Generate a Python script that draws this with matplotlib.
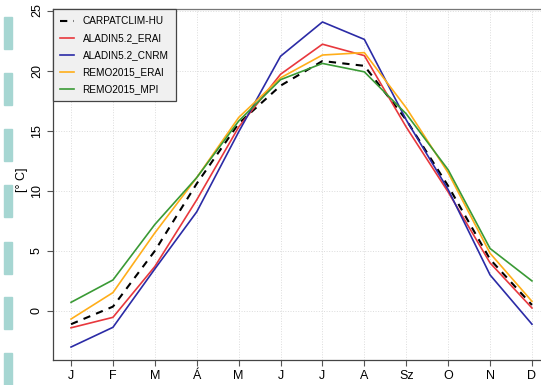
import matplotlib
matplotlib.use("Agg")
import matplotlib.pyplot as plt
from matplotlib.patches import Rectangle

plt.rcParams['font.family'] = ['Liberation Sans', 'DejaVu Sans']

months = ["J", "F", "M", "Á", "M", "J", "J", "A", "Sz", "O", "N", "D"]

# monthly mean temperature [°C]
carpatclim = [-1.1, 0.36, 5.0, 10.6, 15.6, 18.75, 20.8, 20.4, 15.9, 10.4, 4.3, 0.5]
aladin_erai = [-1.4, -0.53, 3.7, 9.25, 15.3, 19.7, 22.2, 21.25, 15.3, 9.9, 4.0, 0.25]
aladin_cnrm = [-3.0, -1.36, 3.5, 8.25, 14.9, 21.2, 24.05, 22.6, 15.9, 10.1, 3.0, -1.1]
remo_erai = [-0.67, 1.53, 6.5, 11.1, 16.1, 19.4, 21.3, 21.5, 16.9, 11.5, 4.8, 0.8]
remo_mpi = [0.72, 2.58, 7.2, 11.1, 15.8, 19.25, 20.6, 19.9, 16.4, 11.75, 5.2, 2.5]

series = [
    ("CARPATCLIM-HU", carpatclim, "black", "--"),
    ("ALADIN5.2_ERAI", aladin_erai, "#e8383d", "-"),
    ("ALADIN5.2_CNRM", aladin_cnrm, "#2b2ba6", "-"),
    ("REMO2015_ERAI", remo_erai, "#ffae1a", "-"),
    ("REMO2015_MPI", remo_mpi, "#3a9a35", "-"),
]

W, H = 541, 385
fig = plt.figure(figsize=(W / 100, H / 100), dpi=100)

# axes box in pixels: left 52.6, right 550.4 (runs past the edge), top 9, bottom 360
ax = fig.add_axes([52.6 / W, (H - 360) / H, (550.4 - 52.6) / W, (360 - 9) / H])

x = list(range(1, 13))
for label, vals, color, ls in series:
    ax.plot(x, vals, color=color, ls=ls, lw=1.2 if ls == "-" else 1.5,
            label=label, dashes=(3.5, 3) if ls == "--" else (None, None))

ax.set_xlim(0.56, 12.44)
ax.set_ylim(-4.08, 25.13)
ax.set_xticks(x)
ax.set_xticklabels(months, fontsize=9)
ax.set_yticks([0, 5, 10, 15, 20, 25])
ax.set_yticklabels(["0", "5", "10", "15", "20", "25"], fontsize=9,
                   rotation=90, va="center")
ax.tick_params(length=4, width=0.8, color="#555555", pad=3)
ax.grid(True, color="#dcdcdc", ls=":", lw=0.7)
ax.set_axisbelow(True)
for side in ["left", "bottom", "top"]:
    ax.spines[side].set_color("#444444")
    ax.spines[side].set_linewidth(0.9)
ax.spines["top"].set_color("#777777")
ax.set_ylabel("[° C]", fontsize=9, va="center")
ax.yaxis.set_label_coords(-0.0615, 0.513)

leg = ax.legend(loc="upper left", fontsize=7.2, borderaxespad=0,
                fancybox=False, framealpha=1, facecolor="#f0f0f0",
                edgecolor="#444444", handlelength=1.4, handletextpad=0.9,
                labelspacing=0.7, borderpad=0.7)
leg.get_frame().set_linewidth(0.9)

# teal strips down the left margin
strip_tops = [17, 73, 129, 185, 242, 297, 353]
for top in strip_tops:
    fig.patches.append(Rectangle((4 / W, (H - top - 32) / H), 8 / W, 32 / H,
                                 transform=fig.transFigure,
                                 color="#a6d6d2", zorder=0))

fig.savefig("out.png", dpi=100)
